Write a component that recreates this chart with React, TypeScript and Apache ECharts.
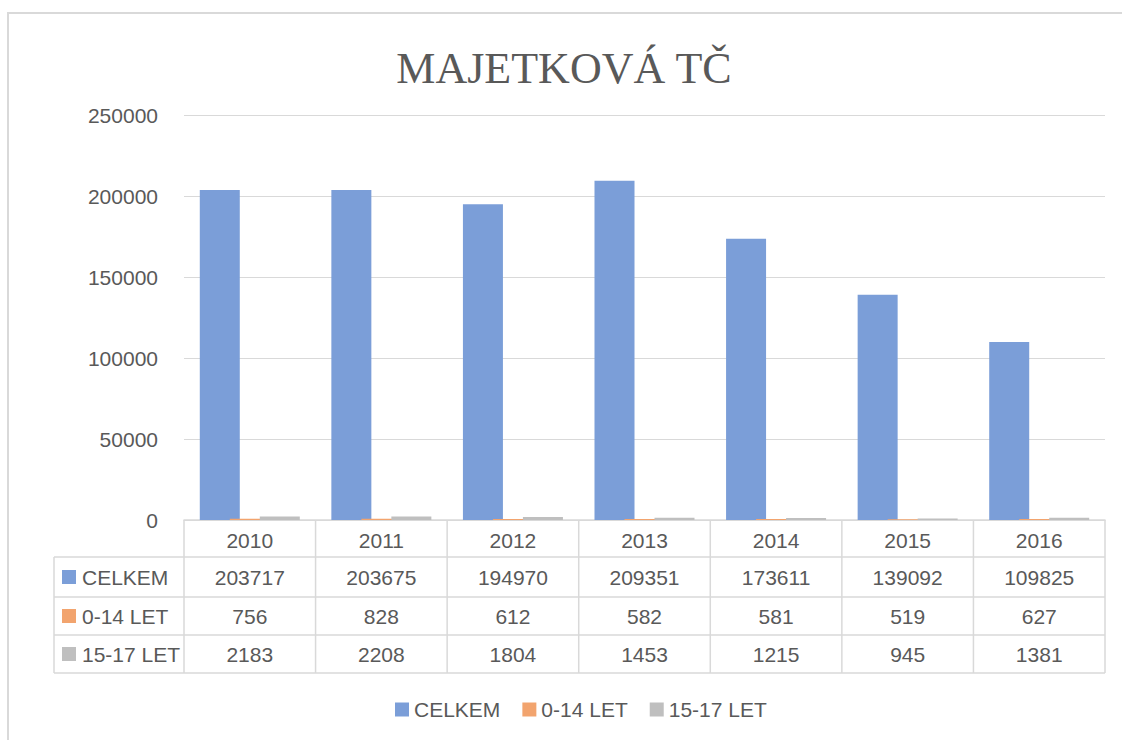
import React, { useEffect, useRef } from "react";
import * as echarts from "echarts";

const title = "MAJETKOVÁ TČ";
const years = ["2010", "2011", "2012", "2013", "2014", "2015", "2016"];
const seriesNames = ["CELKEM", "0-14 LET", "15-17 LET"];
const celkem = [203717, 203675, 194970, 209351, 173611, 139092, 109825];
const let0_14 = [756, 828, 612, 582, 581, 519, 627];
const let15_17 = [2183, 2208, 1804, 1453, 1215, 945, 1381];
const yTicks = { min: 0, max: 250000, interval: 50000 };

const colors = ["#7b9ed8", "#f2a46e", "#bfbfbf"];
const TXT = "#595959";
const LINE = "#d9d9d9";
const FONT = "'Liberation Sans', Arial, sans-serif";
const FS = 21;

export default function App() {
  const ref = useRef<HTMLDivElement>(null);
  useEffect(() => {
    const chart = echarts.init(ref.current!, undefined, { renderer: "svg" });
    const GL = 184, GR = 1105, GT = 115, GB = 520;
    const rowsY = [GB, 557, 597, 635, 673];
    const data = [celkem, let0_14, let15_17];
    chart.setOption({
      animation: false,
      backgroundColor: "#ffffff",
      textStyle: { fontFamily: FONT },
      grid: { left: GL, right: 1122 - GR, top: GT, bottom: 740 - GB, containLabel: false },
      legend: {
        data: seriesNames,
        top: 694,
        left: 390,
        icon: "rect",
        itemWidth: 14,
        itemHeight: 14,
        itemGap: 22,
        textStyle: { color: TXT, fontSize: FS, fontFamily: FONT },
      },
      xAxis: {
        type: "category",
        data: years,
        axisLine: { show: true, lineStyle: { color: LINE, width: 1.5 } },
        axisTick: { show: false },
        axisLabel: { color: TXT, fontSize: FS, margin: 10, fontFamily: FONT },
      },
      yAxis: {
        type: "value",
        min: yTicks.min,
        max: yTicks.max,
        interval: yTicks.interval,
        axisLine: { show: false },
        axisTick: { show: false },
        axisLabel: { color: TXT, fontSize: FS, margin: 26, fontFamily: FONT, formatter: (v: number) => String(v) },
        splitLine: { lineStyle: { color: LINE, width: 1 } },
      },
      series: seriesNames.map((n, i) => ({
        name: n,
        type: "bar",
        data: data[i],
        barWidth: 40,
        barGap: "-25%",
        itemStyle: { color: colors[i] },
      })),
    });

    const g: any[] = [];
    g.push({
      type: "rect",
      shape: { x: 8, y: 13, width: 1300, height: 900 },
      style: { fill: "none", stroke: LINE, lineWidth: 2 },
      silent: true,
    });
    g.push({
      type: "text",
      x: 564,
      y: 68,
      style: {
        text: title,
        fill: TXT,
        font: "44px 'Liberation Serif', 'Times New Roman', serif",
        textAlign: "center",
        textVerticalAlign: "middle",
      },
    });
    const lineStyle = { stroke: LINE, lineWidth: 1.5 };
    for (let r = 1; r < rowsY.length; r++) {
      g.push({ type: "line", shape: { x1: 54, y1: rowsY[r], x2: GR, y2: rowsY[r] }, style: lineStyle });
    }
    g.push({ type: "line", shape: { x1: 54, y1: rowsY[1], x2: 54, y2: rowsY[4] }, style: lineStyle });
    const cw = (GR - GL) / years.length;
    for (let c = 0; c <= years.length; c++) {
      const x = GL + c * cw;
      g.push({ type: "line", shape: { x1: x, y1: GB, x2: x, y2: rowsY[4] }, style: lineStyle });
    }
    for (let r = 0; r < 3; r++) {
      const yc = (rowsY[r + 1] + rowsY[r + 2]) / 2;
      g.push({ type: "rect", shape: { x: 62, y: yc - 7, width: 14, height: 14 }, style: { fill: colors[r] } });
      g.push({
        type: "text",
        x: 82,
        y: yc,
        style: { text: seriesNames[r], fill: TXT, font: `${FS}px ${FONT}`, textAlign: "left", textVerticalAlign: "middle" },
      });
      data[r].forEach((v, i) => {
        const px = chart.convertToPixel({ xAxisIndex: 0 }, years[i]) as number;
        g.push({
          type: "text",
          x: px,
          y: yc,
          style: { text: String(v), fill: TXT, font: `${FS}px ${FONT}`, textAlign: "center", textVerticalAlign: "middle" },
        });
      });
    }
    chart.setOption({ graphic: g });
    return () => chart.dispose();
  }, []);
  return (
    <div
      ref={ref}
      style={{ position: "fixed", left: 0, top: 0, width: 1122, height: 740, background: "#fff" }}
    />
  );
}
